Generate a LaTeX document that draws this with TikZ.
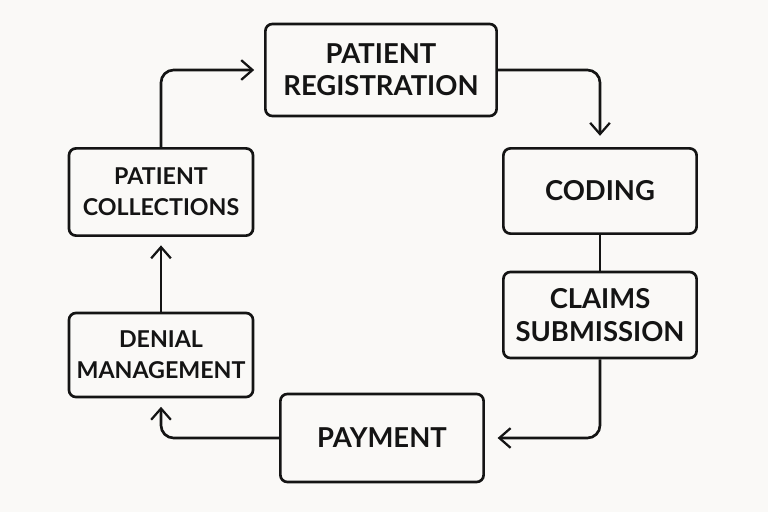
\documentclass[tikz,border=0pt]{standalone}
\usepackage{fontspec}
\setmainfont{Lato}
\usetikzlibrary{positioning, arrows.meta}
\definecolor{paper}{HTML}{FAF9F7}
\definecolor{ink}{HTML}{141414}

\begin{document}
\begin{tikzpicture}[
            x=0.025cm, y=-0.025cm,
            % styles
            stage/.style={rectangle, draw=ink, line width=1.9pt, rounded corners=5pt, align=center,
                          font=\fontsize{19.5}{23}\selectfont\bfseries, text=ink},
            small/.style={font=\fontsize{16.5}{22}\selectfont\bfseries},
            arrow/.style={-{Straight Barb[length=8pt, width=14pt, line width=1.6pt]}, draw=ink, line width=1.9pt,
                          rounded corners=9pt, shorten >=1pt}
        ]

            \fill[paper] (0,0) rectangle (768,512);
            \useasboundingbox (0,0) rectangle (768,512);

            % nodes
            \node[stage, minimum width=5.78cm, minimum height=2.3cm] (reg) at (381,70) {PATIENT\\REGISTRATION};
            \node[stage, minimum width=4.83cm, minimum height=2.13cm] (cod) at (600,191) {CODING};
            \node[stage, minimum width=4.83cm, minimum height=2.15cm] (clm) at (600,315) {CLAIMS\\SUBMISSION};
            \node[stage, minimum width=5.08cm, minimum height=2.2cm] (pay) at (382,438) {PAYMENT};
            \node[stage, small, minimum width=4.6cm, minimum height=2.1cm] (den) at (161,355) {DENIAL\\MANAGEMENT};
            \node[stage, small, minimum width=4.6cm, minimum height=2.18cm] (col) at (161,192) {PATIENT\\COLLECTIONS};

            % connectors
            \draw[arrow, shorten >=8pt] (reg.east) -| (cod.north);
            \draw[draw=ink, line width=1.9pt] (cod) -- (clm);
            \draw[arrow, shorten >=9pt] (clm.south) |- (pay.east);
            \draw[arrow, shorten >=6pt] (pay.west) -| (den.south);
            \draw[arrow, shorten >=6pt] (den.north) -- (col.south);
            \draw[arrow, shorten >=7pt] (col.north) |- (reg.west);
        \end{tikzpicture}
\end{document}
